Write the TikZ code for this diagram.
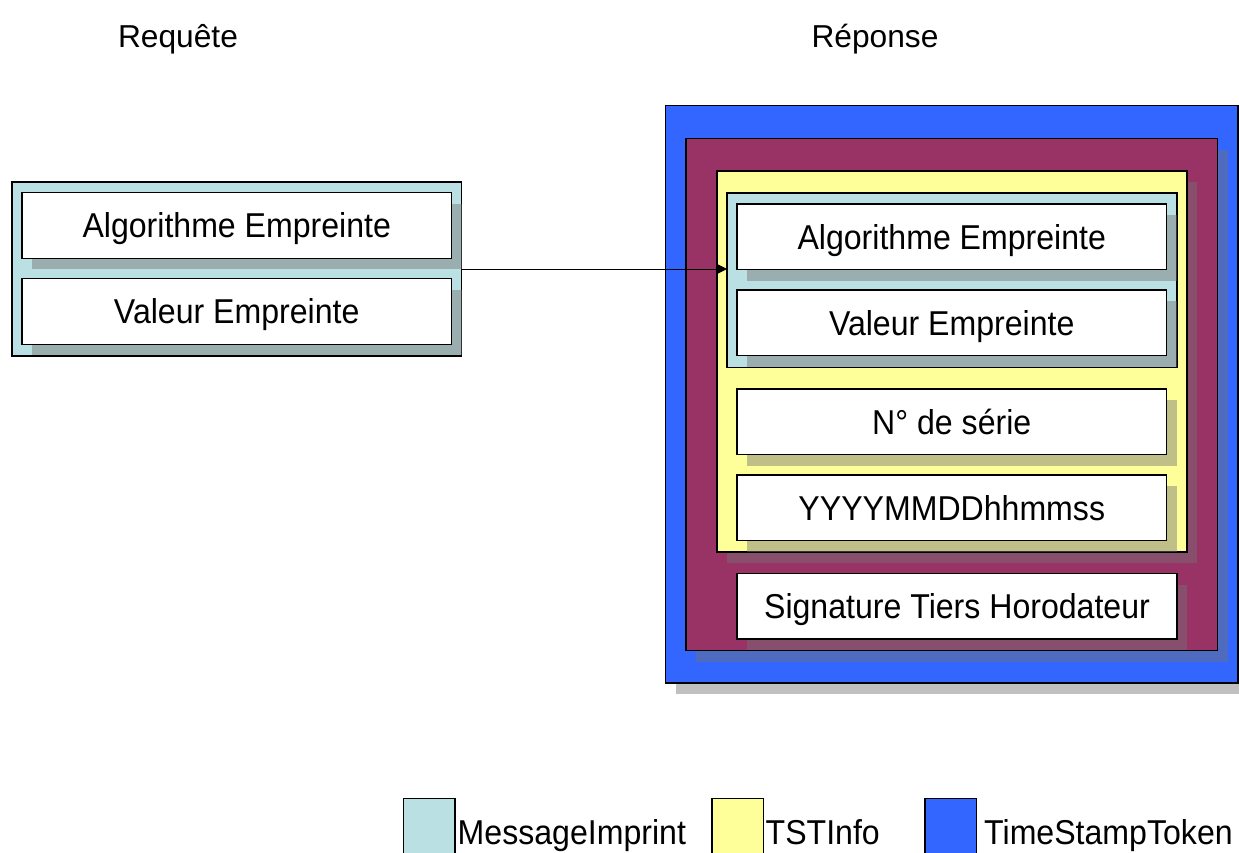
\documentclass[tikz,border=0pt]{standalone}
\usepackage{fontspec}
\setmainfont{Liberation Sans}
\usetikzlibrary{shadows,arrows.meta}
\definecolor{micyan}{RGB}{187,224,227}
\definecolor{tstyellow}{RGB}{255,255,153}
\definecolor{tokblue}{RGB}{51,102,255}
\definecolor{sdmaroon}{RGB}{153,51,102}
\definecolor{shgray}{RGB}{115,115,115}
\newcommand{\narrowtxt}[1]{\scalebox{0.93}[1]{#1}}
\tikzset{
  shad/.style={drop shadow={shadow xshift=10pt,shadow yshift=-11pt,fill=shgray,opacity=.45}},
  frame/.style={draw=black,line width=1.3pt,inner sep=0pt,outer sep=0pt},
  field/.style={frame,fill=white,shad,minimum height=65.5pt,
    font=\fontsize{34.5}{40}\selectfont,text height=24.7pt,text depth=0pt},
  legsq/.style={frame,anchor=north west,minimum width=51.5pt,minimum height=70pt},
  legtxt/.style={anchor=base west,inner sep=0pt,font=\fontsize{34.5}{40}\selectfont},
  title/.style={anchor=base,inner sep=0pt,font=\fontsize{31.7}{36}\selectfont},
  conn/.style={line width=1pt,-{Triangle[length=10pt,width=10pt]}}
}
\begin{document}
\begin{tikzpicture}[x=1pt,y=-1pt]
\useasboundingbox (0,0) rectangle (1239,852);
% titles
\node[title] (treq) at (178,47.7) {Requête};
\node[title] (trep) at (875,47.7) {Réponse};
% request
\node[frame,fill=micyan,minimum width=449.5pt,minimum height=174pt] (lmi) at (236.75,269) {};
\node[field,minimum width=429.5pt] (lalgo) at (236.75,225.5) {\narrowtxt{Algorithme Empreinte}};
\node[field,minimum width=429.5pt] (lval) at (236.75,311.5) {\narrowtxt{Valeur Empreinte}};
% response
\node[frame,fill=tokblue,shad,minimum width=572.5pt,minimum height=577.5pt] (tok) at (951.75,394.25) {};
\node[frame,fill=sdmaroon,shad,minimum width=531.5pt,minimum height=512pt] (sd) at (951.75,394.5) {};
\node[frame,fill=tstyellow,shad,minimum width=470pt,minimum height=381pt] (tst) at (952,361.5) {};
\node[frame,fill=micyan,minimum width=450pt,minimum height=174.5pt] (rmi) at (952,280.25) {};
\node[field,minimum width=429.5pt] (ralgo) at (951.75,236.75) {\narrowtxt{Algorithme Empreinte}};
\node[field,minimum width=429.5pt] (rval) at (951.75,322.75) {\narrowtxt{Valeur Empreinte}};
\node[field,minimum width=429.5pt] (serial) at (951.75,421.75) {\narrowtxt{N° de série}};
\node[field,minimum width=429.5pt] (gentime) at (951.75,507.75) {\narrowtxt{YYYYMMDDhhmmss}};
\node[field,minimum width=440pt] (sig) at (957,606.25) {\narrowtxt{Signature Tiers Horodateur}};
% connector
\draw[conn] (lmi.east) -- (lmi.east -| rmi.west);
% legend
\node[legsq,fill=micyan] (lg1) at (403.5,798.5) {};
\node[legtxt] (lt1) at (457.5,844.5) {\narrowtxt{MessageImprint}};
\node[legsq,fill=tstyellow] (lg2) at (712,798.5) {};
\node[legtxt] (lt2) at (765.5,844.5) {\narrowtxt{TSTInfo}};
\node[legsq,fill=tokblue] (lg3) at (925,798.5) {};
\node[legtxt] (lt3) at (984,844.5) {\narrowtxt{TimeStampToken}};
\end{tikzpicture}
\end{document}
